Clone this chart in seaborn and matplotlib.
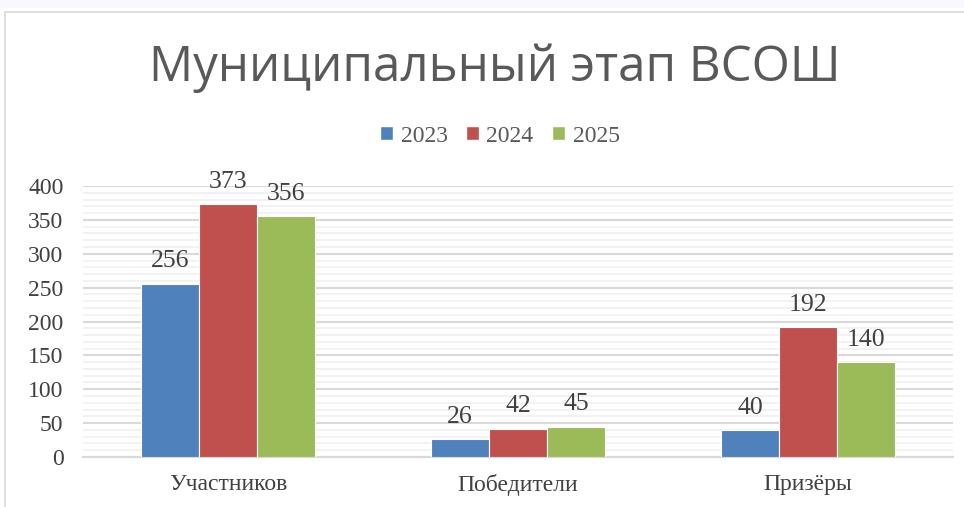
import matplotlib
matplotlib.use("Agg")
import matplotlib.pyplot as plt
import pandas as pd
import seaborn as sns
from matplotlib.patches import Rectangle
from matplotlib.ticker import MultipleLocator

# data
categories = ['Участников', 'Победители', 'Призёры']
years = ['2023', '2024', '2025']
v2023 = [256, 26, 40]
v2024 = [373, 42, 192]
v2025 = [356, 45, 140]
colors = ['#4F81BD', '#C0504D', '#9BBB59']

df = pd.DataFrame({
    'cat': categories * 3,
    'year': [y for y in years for _ in categories],
    'val': v2023 + v2024 + v2025,
})

sns.set_theme(style='white')
plt.rcParams['font.family'] = ['Liberation Serif', 'DejaVu Serif']

fig = plt.figure(figsize=(9.64, 5.07), dpi=100)

# strip of document text above the chart + chart frame
fig.patches.append(Rectangle((0, 1 - 8 / 507), 1, 8 / 507, transform=fig.transFigure,
                             facecolor='#F7F9FD', edgecolor='none', zorder=-2))
fig.patches.append(Rectangle((5 / 964, -0.01), 1.0, 1 - 12 / 507 + 0.01, transform=fig.transFigure,
                             facecolor='white', edgecolor='#D9D9D9', lw=1.2, zorder=-2))

ax = fig.add_axes([83 / 964, 50 / 507, 870 / 964, 271 / 507])
ax.patch.set_alpha(0)
sns.barplot(data=df, x='cat', y='val', hue='year', palette=colors, width=0.6,
            gap=0, saturation=1, edgecolor='white', linewidth=0.8, ax=ax, zorder=3)

ax.set_ylim(0, 400)
ax.set_xlim(-0.5, 2.5)
ax.yaxis.set_major_locator(MultipleLocator(50))
ax.yaxis.set_minor_locator(MultipleLocator(10))
ax.grid(which='major', axis='y', color='#D9D9D9', lw=1.5, zorder=0)
ax.grid(which='minor', axis='y', color='#F0F0F0', lw=1.2, zorder=0)
ax.set_axisbelow(True)
for s in ['left', 'right', 'top']:
    ax.spines[s].set_visible(False)
ax.spines['bottom'].set_color('#D9D9D9')
ax.spines['bottom'].set_linewidth(1.5)
ax.tick_params(axis='both', which='both', length=0)
ax.tick_params(axis='y', labelsize=17, labelcolor='#404040', pad=14)
ax.tick_params(axis='x', labelsize=17, labelcolor='#404040', pad=12)
ax.set_xlabel('')
ax.set_ylabel('')

for cont in ax.containers:
    ax.bar_label(cont, fontsize=18.5, color='#404040', padding=8)

ax.legend_.remove()
handles = [Rectangle((0, 0), 1, 1, facecolor=c) for c in colors]
fig.legend(handles, years, loc='center', bbox_to_anchor=(500 / 964, 1 - 136 / 507), ncol=3,
           frameon=False, fontsize=17, labelcolor='#595959', handlelength=0.55,
           handleheight=0.55, handletextpad=0.3, columnspacing=0.8)

fig.text(495 / 964, 1 - 68 / 507, 'Муниципальный этап ВСОШ', ha='center', va='center',
         fontsize=35.5, color='#595959', family=['Open Sans', 'DejaVu Sans'])

fig.savefig('out.png', dpi=100)
